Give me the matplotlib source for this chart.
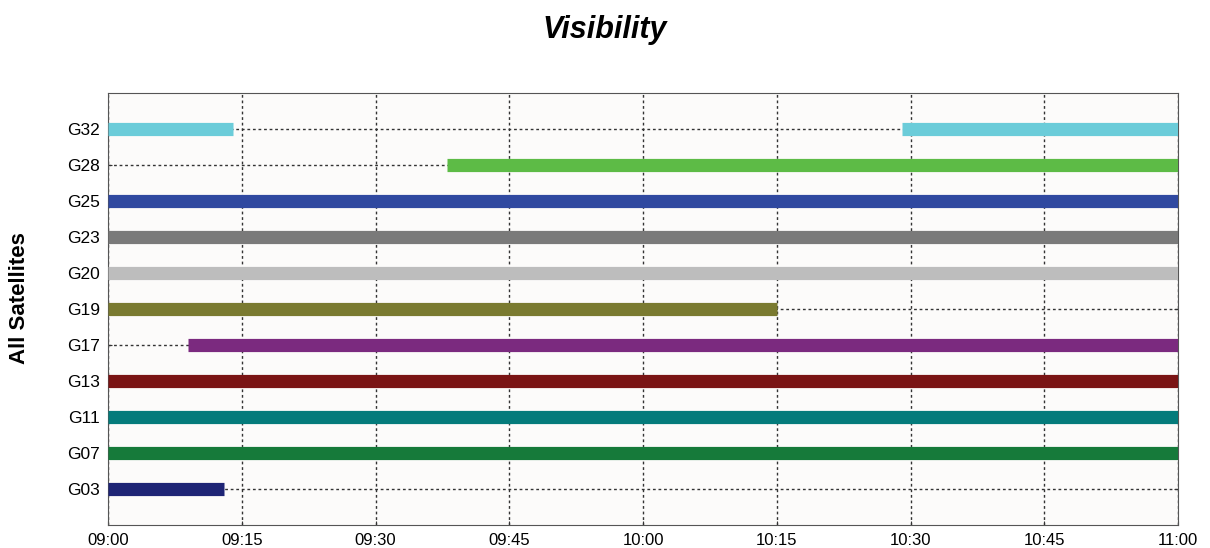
import matplotlib
matplotlib.use("Agg")
import matplotlib.pyplot as plt
from datetime import datetime

plt.rcParams['font.family'] = ['Liberation Sans', 'DejaVu Sans']

# satelit, dari bawah ke atas
satellites = ["G03", "G07", "G11", "G13", "G17", "G19", "G20", "G23", "G25", "G28", "G32"]
colors = ["#1e2475", "#167a3a", "#047b7b", "#7a1414", "#7b2a7f", "#7a7a30",
          "#bdbdbd", "#7a7a7a", "#3049a0", "#5dbb46", "#6bccd9"]

# jendela visibilitas tiap satelit (mulai, selesai)
visible = {
    "G03": [("09:00", "09:13")],
    "G07": [("09:00", "11:00")],
    "G11": [("09:00", "11:00")],
    "G13": [("09:00", "11:00")],
    "G17": [("09:09", "11:00")],
    "G19": [("09:00", "10:15")],
    "G20": [("09:00", "11:00")],
    "G23": [("09:00", "11:00")],
    "G25": [("09:00", "11:00")],
    "G28": [("09:38", "11:00")],
    "G32": [("09:00", "09:14"), ("10:29", "11:00")],
}
tick_labels = ["09:00", "09:15", "09:30", "09:45", "10:00", "10:15", "10:30", "10:45", "11:00"]


def t(s):
    return datetime.strptime("2019-05-02 " + s, "%Y-%m-%d %H:%M")


fig = plt.figure(figsize=(12.1, 5.48), dpi=100)
ax = fig.add_axes([0.0893, 0.042, 0.8843, 0.7883])
ax.set_facecolor("#fcfbfa")

for i, (sat, c) in enumerate(zip(satellites, colors)):
    for a, b in visible[sat]:
        ax.hlines(i + 1, t(a), t(b), color=c, linewidth=9.5, zorder=3)

ax.set_ylim(0, len(satellites) + 1)
ax.set_yticks(range(1, len(satellites) + 1))
ax.set_yticklabels(satellites, fontsize=12.5)

ticks = [t(s) for s in tick_labels]
ax.set_xlim(ticks[0], ticks[-1])
ax.set_xticks(ticks)
ax.set_xticklabels(tick_labels, fontsize=12)

ax.grid(True, linestyle=(0, (2, 2)), color="#333333", linewidth=1.0, zorder=1)
ax.set_axisbelow(True)
ax.tick_params(direction="in", length=3, pad=6, top=False, right=True, color="#333333")
for sp in ax.spines.values():
    sp.set_color("#555555")

ax.set_ylabel("All Satellites", fontsize=16, fontweight="bold")
ax.yaxis.set_label_coords(-0.073, 0.525)
fig.text(0.5, 0.945, "Visibility", ha="center", va="center",
         fontsize=22, fontweight="bold", fontstyle="italic")

fig.savefig("out.png", dpi=100)
